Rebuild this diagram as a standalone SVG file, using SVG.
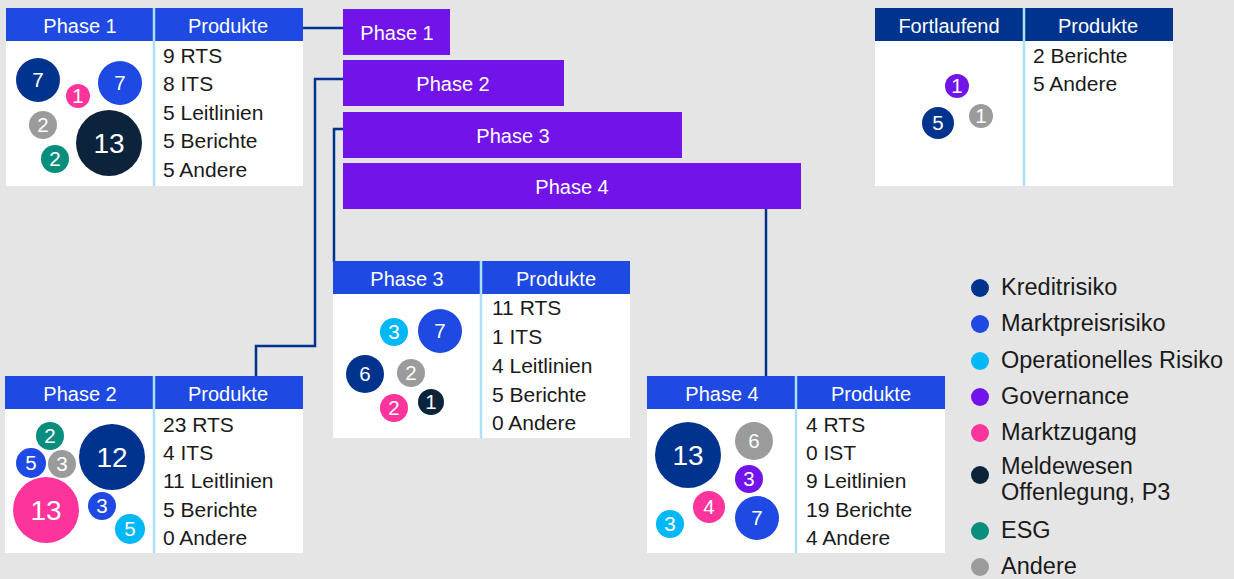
<svg xmlns="http://www.w3.org/2000/svg" width="1234" height="579" viewBox="0 0 1234 579">
<style>
text{font-family:"Liberation Sans",Arial,sans-serif}
.hd{fill:#fff;font-size:20px;text-anchor:middle}
.bt{fill:#1a1a1a;font-size:21px}
.lg{fill:#1a1a1a;font-size:23.5px}
.cl{fill:#fff;font-size:20.5px;text-anchor:middle}
.cb{fill:#fff;font-size:28px;text-anchor:middle}
.body{fill:#fff}
.hb{fill:#1e49e2}
.hf{fill:#00338d}
.dv{stroke:#a9e2f8;stroke-width:2.5}
.bar{fill:#7213ea}
.conn{fill:none;stroke:#00338d;stroke-width:2.5}
.k{fill:#00338d}.m{fill:#1e49e2}.o{fill:#00b8f5}.g{fill:#7213ea}.z{fill:#fd349c}.w{fill:#0c233c}.e{fill:#098e7e}.a{fill:#9b9b9b}
</style>
<rect width="1234" height="579" fill="#e5e5e5"/>

<g id="connectors">
<polyline class="conn" points="303,28 343,28"/>
<polyline class="conn" points="343,79 315,79 315,346 256,346 256,377"/>
<polyline class="conn" points="343,129 334,129 334,262"/>
<polyline class="conn" points="766,209 766,377"/>
</g>

<g id="bar-phase1"><rect class="bar" x="343" y="9" width="107" height="46"/><text class="hd" x="397" y="40">Phase 1</text></g>
<g id="bar-phase2"><rect class="bar" x="343" y="60" width="221" height="46"/><text class="hd" x="453" y="91">Phase 2</text></g>
<g id="bar-phase3"><rect class="bar" x="343" y="112" width="339" height="46"/><text class="hd" x="513" y="143">Phase 3</text></g>
<g id="bar-phase4"><rect class="bar" x="343" y="163" width="458" height="46"/><text class="hd" x="572" y="194">Phase 4</text></g>

<g id="panel-phase1">
<rect class="body" x="6" y="8" width="297" height="178"/>
<rect class="hb" x="6" y="8" width="297" height="33"/>
<line class="dv" x1="154" y1="8" x2="154" y2="186"/>
<text class="hd" x="80" y="33">Phase 1</text>
<text class="hd" x="228" y="33">Produkte</text>
<text class="bt" x="163" y="63">9 RTS</text>
<text class="bt" x="163" y="91">8 ITS</text>
<text class="bt" x="163" y="120">5 Leitlinien</text>
<text class="bt" x="163" y="148">5 Berichte</text>
<text class="bt" x="163" y="177">5 Andere</text>
<circle class="k" cx="38" cy="80" r="22"/><text class="cl" x="38" y="87">7</text>
<circle class="z" cx="78" cy="96" r="12"/><text class="cl" x="78" y="103">1</text>
<circle class="m" cx="120" cy="83" r="22"/><text class="cl" x="120" y="90">7</text>
<circle class="a" cx="43" cy="125" r="14"/><text class="cl" x="43" y="132">2</text>
<circle class="e" cx="55" cy="159" r="14"/><text class="cl" x="55" y="166">2</text>
<circle class="w" cx="109" cy="143" r="33"/><text class="cb" x="109" y="153">13</text>
</g>

<g id="panel-fortlaufend">
<rect class="body" x="875" y="8" width="298" height="178"/>
<rect class="hf" x="875" y="8" width="298" height="33"/>
<line class="dv" x1="1024" y1="8" x2="1024" y2="186"/>
<text class="hd" x="949" y="33">Fortlaufend</text>
<text class="hd" x="1098" y="33">Produkte</text>
<text class="bt" x="1033" y="63">2 Berichte</text>
<text class="bt" x="1033" y="91">5 Andere</text>
<circle class="g" cx="957" cy="86" r="12"/><text class="cl" x="957" y="93">1</text>
<circle class="k" cx="938" cy="123" r="16"/><text class="cl" x="938" y="130">5</text>
<circle class="a" cx="981" cy="116" r="12"/><text class="cl" x="981" y="123">1</text>
</g>

<g id="panel-phase3">
<rect class="body" x="333" y="261" width="297" height="177"/>
<rect class="hb" x="333" y="261" width="297" height="33"/>
<line class="dv" x1="481" y1="261" x2="481" y2="438"/>
<text class="hd" x="407" y="286">Phase 3</text>
<text class="hd" x="556" y="286">Produkte</text>
<text class="bt" x="492" y="315">11 RTS</text>
<text class="bt" x="492" y="344">1 ITS</text>
<text class="bt" x="492" y="373">4 Leitlinien</text>
<text class="bt" x="492" y="402">5 Berichte</text>
<text class="bt" x="492" y="430">0 Andere</text>
<circle class="o" cx="394" cy="332" r="14"/><text class="cl" x="394" y="339">3</text>
<circle class="m" cx="440" cy="331" r="22"/><text class="cl" x="440" y="338">7</text>
<circle class="k" cx="365" cy="374" r="19"/><text class="cl" x="365" y="381">6</text>
<circle class="a" cx="411" cy="373" r="14"/><text class="cl" x="411" y="380">2</text>
<circle class="z" cx="394" cy="408" r="14"/><text class="cl" x="394" y="415">2</text>
<circle class="w" cx="431" cy="402" r="13"/><text class="cl" x="431" y="409">1</text>
</g>

<g id="panel-phase2">
<rect class="body" x="5" y="376" width="298" height="177"/>
<rect class="hb" x="5" y="376" width="298" height="33"/>
<line class="dv" x1="154" y1="376" x2="154" y2="553"/>
<text class="hd" x="80" y="401">Phase 2</text>
<text class="hd" x="228" y="401">Produkte</text>
<text class="bt" x="163" y="432">23 RTS</text>
<text class="bt" x="163" y="460">4 ITS</text>
<text class="bt" x="163" y="488">11 Leitlinien</text>
<text class="bt" x="163" y="517">5 Berichte</text>
<text class="bt" x="163" y="545">0 Andere</text>
<circle class="e" cx="50" cy="436" r="14"/><text class="cl" x="50" y="443">2</text>
<circle class="m" cx="31" cy="463" r="15"/><text class="cl" x="31" y="470">5</text>
<circle class="a" cx="62" cy="464" r="14"/><text class="cl" x="62" y="471">3</text>
<circle class="k" cx="112" cy="457" r="33"/><text class="cb" x="112" y="467">12</text>
<circle class="z" cx="46" cy="510" r="33"/><text class="cb" x="46" y="520">13</text>
<circle class="m" cx="102" cy="506" r="14"/><text class="cl" x="102" y="513">3</text>
<circle class="o" cx="130" cy="529" r="15"/><text class="cl" x="130" y="536">5</text>
</g>

<g id="panel-phase4">
<rect class="body" x="647" y="376" width="298" height="177"/>
<rect class="hb" x="647" y="376" width="298" height="33"/>
<line class="dv" x1="796" y1="376" x2="796" y2="553"/>
<text class="hd" x="722" y="401">Phase 4</text>
<text class="hd" x="871" y="401">Produkte</text>
<text class="bt" x="806" y="432">4 RTS</text>
<text class="bt" x="806" y="460">0 IST</text>
<text class="bt" x="806" y="488">9 Leitlinien</text>
<text class="bt" x="806" y="517">19 Berichte</text>
<text class="bt" x="806" y="545">4 Andere</text>
<circle class="k" cx="688" cy="455" r="33"/><text class="cb" x="688" y="465">13</text>
<circle class="a" cx="754" cy="441" r="19"/><text class="cl" x="754" y="448">6</text>
<circle class="g" cx="749" cy="479" r="14"/><text class="cl" x="749" y="486">3</text>
<circle class="z" cx="709" cy="507" r="16"/><text class="cl" x="709" y="514">4</text>
<circle class="o" cx="670" cy="524" r="14"/><text class="cl" x="670" y="531">3</text>
<circle class="m" cx="757" cy="518" r="22"/><text class="cl" x="757" y="525">7</text>
</g>

<g id="legend">
<circle class="k" cx="980" cy="288" r="9"/><text class="lg" x="1001" y="295">Kreditrisiko</text>
<circle class="m" cx="980" cy="324" r="9"/><text class="lg" x="1001" y="331">Marktpreisrisiko</text>
<circle class="o" cx="980" cy="361" r="9"/><text class="lg" x="1001" y="368">Operationelles Risiko</text>
<circle class="g" cx="980" cy="397" r="9"/><text class="lg" x="1001" y="404">Governance</text>
<circle class="z" cx="980" cy="433" r="9"/><text class="lg" x="1001" y="440">Marktzugang</text>
<circle class="w" cx="980" cy="475" r="9"/><text class="lg" x="1001" y="474">Meldewesen</text><text class="lg" x="1001" y="500">Offenlegung, P3</text>
<circle class="e" cx="980" cy="531" r="9"/><text class="lg" x="1001" y="538">ESG</text>
<circle class="a" cx="980" cy="567" r="9"/><text class="lg" x="1001" y="574">Andere</text>
</g>
</svg>
